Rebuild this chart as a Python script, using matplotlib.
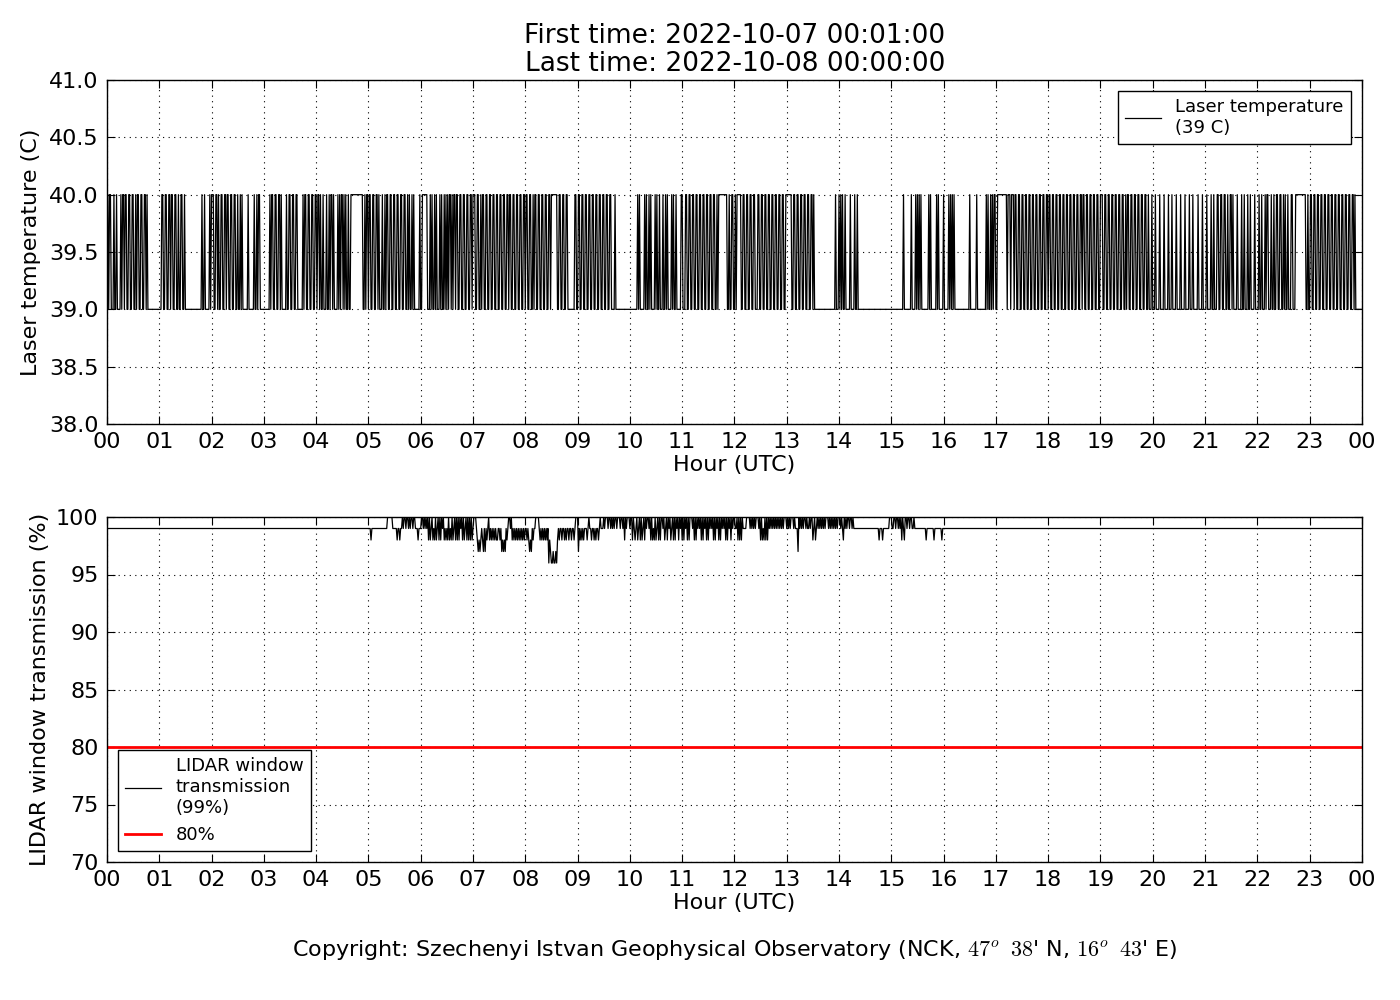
import matplotlib
matplotlib.use("Agg")
import matplotlib.pyplot as plt
import numpy as np

plt.rcParams['font.family'] = ['DejaVu Sans']
plt.rcParams['mathtext.fontset'] = 'cm'

# ---------------- data ----------------
TITLE_FIRST = "First time: 2022-10-07 00:01:00"
TITLE_LAST = "Last time: 2022-10-08 00:00:00"
HOUR_TICKS = list(range(0, 25))
HOUR_LABELS = ["%02d" % (h % 24) for h in HOUR_TICKS]
TEMP_TICKS = [38.0, 38.5, 39.0, 39.5, 40.0, 40.5, 41.0]
TRANS_TICKS = [70, 75, 80, 85, 90, 95, 100]

# laser temperature, one char per minute, per hour: '0' = 39 C, '1' = 40 C
TEMP_LOW, TEMP_HIGH = 39.0, 40.0
laser_hours = [
    "1011" "00010" "0100" "0010110" "1100110011001011001100110100" "000000000000",
    "00" "110011001101100110010011001" "0000000000000000000" "100100000101",
    "110011010011001101100110011001" "0010100000" "0100000010" "0101100000",
    "00000010" "1100110011010" "0000" "1001100110011" "000000" "1011001100110011",
    "0110100100" "010" "01011010" "0001" "0101101010" "010" "011111" "1111111110" "010110",
    "1100110011010" "0010010" "1100110011001100110011001" "0100101" "00000" "010",
    "011111100" "0101001010" "0010100101" "0101101011" "011001100110011001101",
    "1100110010" "1100110011" "0011001100" "1100110011" "0110011001" "1001100110",
    "1100110010" "1100110011" "0011001101" "1111110011" "0011001100" "0000001100",
    "1100110011" "0011001100" "1100110011" "0011001100" "0010000000" "0000000000",
    "0000000010" "1000001010" "0101000010" "1001000100" "1010000101" "0010000011",
    "0001100110" "0110011001" "1001100110" "0110011001" "0111111111" "1001001100",
    "1011111001" "1001100110" "0110001100" "1100110011" "0011001100" "1100110011",
    "1111100110" "0110011001" "1001100110" "1000000000" "0000000000" "0000010001",
    "0101001000" "0010000100" "1000000000" "0000000000" "0000000000" "0000000000",
    "0000000000" "0001000000" "0010000101" "0101000000" "0010100000" "0101000001",
    "0000010101" "0100000000" "0000000001" "0000000100" "0000000010" "1001010110",
    "0111111111" "1101110111" "0110011001" "1001100110" "0110011001" "1001100110",
    "1100110011" "0011001100" "1100110011" "0011001101" "1001100110" "0110011001",
    "1100110011" "0011001100" "1100110010" "1100110011" "0011001100" "1100100010",
    "0010000100" "0010000100" "0100001000" "0100001000" "0100010000" "0100001000",
    "0100001001" "0001100110" "0110010011" "0100001000" "0100100010" "0100001000",
    "0100100010" "1100010010" "0110011001" "0100100011" "0001111111" "1111100100",
    "1100110011" "0011001100" "1100110011" "0011001100" "1100110011" "0100000000",
]

# LIDAR window transmission (%), baseline outside 05-16 UTC,
# one char per minute: '0'=100, '9'=99, '8'=98, '7'=97, '6'=96
TRANS_BASE = 99
THRESHOLD = 80
TRANS_CODE = {'0': 100, '9': 99, '8': 98, '7': 97, '6': 96}
trans_hours = {
    5:  "9989999999" "9999999999" "9000000999" "9989989909" "0090090900" "9009998999",
    6:  "0090909080" "8908980890" "8080908989" "8089808908" "0808090808" "9080808089",
    7:  "0009878789" "8797989089" "8989898899" "8978787989" "0090898989" "8989898989",
    8:  "9898787989" "9000098989" "8989896876" "6766768989" "9899898998" "9989989000",
    9:  "7989898999" "8909989989" "8998909990" "9000900909" "0900900090" "0908090009",
    10: "0080989089" "0808908090" "0908089808" "9080800908" "9080908908" "0809080908",
    11: "0809080800" "0908080909" "0808090808" "0909080809" "0808090908" "0809080900",
    12: "9908080809" "9990000909" "0909000908" "0898080809" "0909090909" "0909090009",
    13: "0909000909" "9970909090" "0909909008" "9089090909" "0909000909" "0909090900",
    14: "0909809090" "0900909999" "9999999999" "9999999999" "9999989998" "9999999000",
    15: "9900900909" "0809800900" "9009909999" "9999999998" "9999999989" "9999999899",
}

# ---------------- build series ----------------
t_laser, v_laser = [], []
for h, s in enumerate(laser_hours):
    n = len(s)
    for i, c in enumerate(s):
        t_laser.append(h + (i + 1) / n)
        v_laser.append(TEMP_HIGH if c == '1' else TEMP_LOW)

t_trans, v_trans = [], []
for h in range(24):
    s = trans_hours.get(h, '9' * 60)
    n = len(s)
    for i, c in enumerate(s):
        t_trans.append(h + (i + 1) / n)
        v_trans.append(TRANS_CODE[c] if h in trans_hours else TRANS_BASE)

# ---------------- figure ----------------
fig = plt.figure(figsize=(14, 10), dpi=100)
fig.patch.set_facecolor('white')

ax1 = fig.add_axes([0.0764, 0.576, 0.8964, 0.344])
ax2 = fig.add_axes([0.0764, 0.138, 0.8964, 0.345])


def style(ax):
    ax.set_xlim(0, 24)
    ax.set_xticks(HOUR_TICKS)
    ax.set_xticklabels(HOUR_LABELS)
    ax.tick_params(direction='in', top=True, right=True, length=6,
                   width=0.8, labelsize=16, pad=6)
    ax.grid(True, linestyle=(0, (1, 4)), color='black', linewidth=0.8)
    for sp in ax.spines.values():
        sp.set_linewidth(1.0)
    ax.set_xlabel("Hour (UTC)", fontsize=16, labelpad=2)


ax1.plot(t_laser, v_laser, color='black', lw=0.9,
         label="Laser temperature\n(39 C)")
style(ax1)
ax1.set_ylim(38.0, 41.0)
ax1.set_yticks(TEMP_TICKS)
ax1.set_yticklabels(["%.1f" % v for v in TEMP_TICKS])
ax1.set_ylabel("Laser temperature (C)", fontsize=16, labelpad=6)
leg1 = ax1.legend(loc='upper right', fontsize=13, fancybox=False,
                  edgecolor='black', framealpha=1, handlelength=2.0,
                  borderaxespad=0.6)
leg1.get_frame().set_linewidth(1.0)

ax2.plot(t_trans, v_trans, color='black', lw=0.9,
         label="LIDAR window\ntransmission\n(99%)")
ax2.axhline(THRESHOLD, color='red', lw=2, label="%d%%" % THRESHOLD)
style(ax2)
ax2.set_ylim(70, 100)
ax2.set_yticks(TRANS_TICKS)
ax2.set_ylabel("LIDAR window transmission (%)", fontsize=16)
leg2 = ax2.legend(loc='lower left', fontsize=13, fancybox=False,
                  edgecolor='black', framealpha=1, handlelength=2.0,
                  borderaxespad=0.6)
leg2.get_frame().set_linewidth(1.0)

fig.text(0.525, 0.964, TITLE_FIRST, ha='center', va='center', fontsize=19)
fig.text(0.525, 0.936, TITLE_LAST, ha='center', va='center', fontsize=19)

fig.text(0.525, 0.05,
         r"Copyright: Szechenyi Istvan Geophysical Observatory (NCK, "
         r"$47^o\;\;38$' N, $16^o\;\;43$' E)",
         ha='center', va='center', fontsize=16)

fig.savefig("out.png", dpi=100, facecolor='white')
